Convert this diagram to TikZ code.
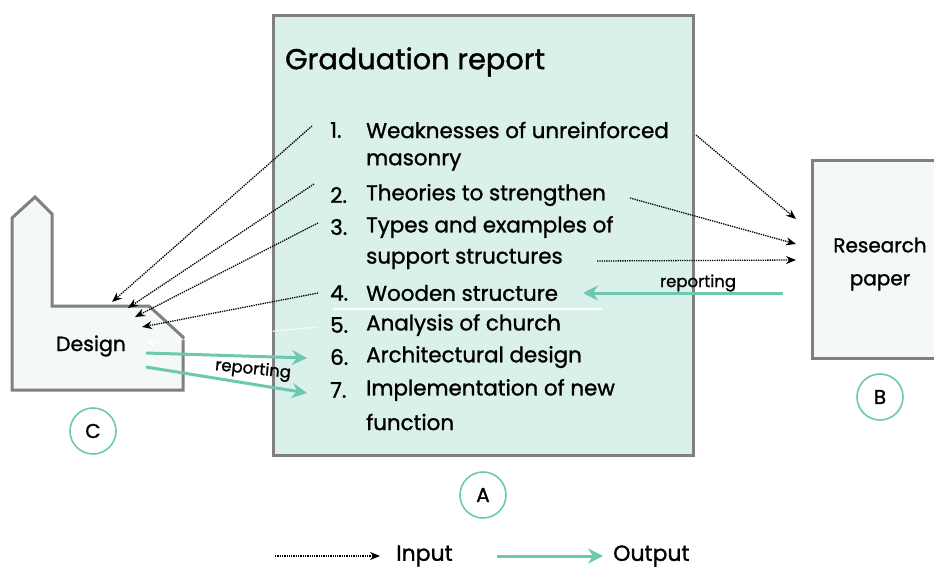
\documentclass[tikz,border=0pt]{standalone}
\usepackage{fontspec}
\setmainfont{Poppins}[FakeBold=1.2]
\usetikzlibrary{arrows.meta}
\definecolor{teal1}{RGB}{108,200,174}
\definecolor{paleteal}{RGB}{218,240,235}
\definecolor{palegray}{RGB}{244,248,247}
\definecolor{edgegray}{RGB}{128,128,128}
\tikzset{
  panel/.style={draw=edgegray, line width=3pt, fill=palegray},
  itemtxt/.style={anchor=west, inner sep=0pt, font=\fontsize{21.4}{24}\selectfont},
  inarrow/.style={densely dotted, line width=1.3pt, -{Stealth[length=10pt,width=8pt]}},
  outarrow/.style={draw=teal1, line width=3pt, -{Stealth[length=15pt,width=15pt,inset=5pt]}},
  tag/.style={circle, draw=teal1, line width=1.6pt, minimum size=46pt, inner sep=0pt, font=\fontsize{20}{24}\selectfont},
}
\begin{document}
\begin{tikzpicture}[x=1pt,y=-1pt]
\useasboundingbox (0,0) rectangle (934,567);

% report panel
\node[panel, fill=paleteal, minimum width=420pt, minimum height=439pt, inner sep=0pt] (A) at (483,235.5) {};
\node[anchor=west, inner sep=0pt, font=\fontsize{28.8}{32}\selectfont] (title) at (285,62) {Graduation report};

% numbered list
\foreach \n/\y in {1/130,2/195,3/227,4/293,5/325,6/357,7/390}
  \node[itemtxt] (num\n) at (330,\y) {\n.};
\node[itemtxt] (i1) at (366,130) {Weaknesses of unreinforced};
\node[itemtxt] (i1b) at (366,162) {masonry};
\node[itemtxt] (i2) at (366,195) {Theories to strengthen};
\node[itemtxt] (i3) at (366,227) {Types and examples of};
\node[itemtxt] (i3b) at (366,259) {support structures};
\node[itemtxt] (i4) at (366,293) {Wooden structure};
\node[itemtxt] (i5) at (366,325) {Analysis of church};
\node[itemtxt] (i6) at (366,357) {Architectural design};
\node[itemtxt] (i7) at (366,390) {Implementation of new};
\node[itemtxt] (i7b) at (366,422) {function};
\draw[white, line width=1.2pt] (333,309) -- (602,309);

% research paper panel
\node[panel, minimum width=128pt, minimum height=198pt, inner sep=0pt] (B) at (876,259) {};
\node[font=\fontsize{20}{33}\selectfont, align=center] (Btxt) at (880,264) {Research\\paper};

% design panel (church outline)
\draw[panel] (12,218) -- (35,197) -- (52,214) -- (52,306) -- (149,306) -- (183,337) -- (183,390) -- (12,390) -- cycle;
\node[font=\fontsize{20.5}{24}\selectfont] (C) at (91,346) {Design};

% tags
\node[tag] (tagA) at (483,495) {A};
\node[tag] (tagB) at (880,397) {B};
\node[tag] (tagC) at (93,431) {C};

% input connectors towards the design
\coordinate (s1) at (312,126);
\coordinate (s2) at (314,184);
\coordinate (s3) at (318,223);
\coordinate (s4) at (318,293);
\coordinate (s5) at (318,327);
\coordinate (e1) at (112,302);
\coordinate (e2) at (128,308);
\coordinate (e3) at (135,317);
\coordinate (e4) at (142,327);
\coordinate (e5) at (145,343);
\draw[inarrow] (s1) -- (e1);
\draw[inarrow] (s2) -- (e2);
\draw[inarrow] (s3) -- (e3);
\draw[inarrow] (s4) -- (e4);
\draw[inarrow, draw=white, fill=white] (s5) -- (e5);

% input connectors towards the research paper
\coordinate (r1) at (696,135);
\coordinate (r2) at (630,198);
\coordinate (r3) at (597,261);
\coordinate (q1) at (796,219);
\coordinate (q2) at (796,244);
\coordinate (q3) at (796,260);
\draw[inarrow] (r1) -- (q1);
\draw[inarrow] (r2) -- (q2);
\draw[inarrow] (r3) -- (q3);

% output connectors
\coordinate (bout) at (783,293);
\coordinate (bin) at (583,293);
\draw[outarrow] (bout) -- (bin);
\node[font=\fontsize{16.5}{18}\selectfont] (rep1) at (698,283) {reporting};

\coordinate (c1) at (146,353);
\coordinate (c2) at (146,367);
\coordinate (d1) at (307,358);
\coordinate (d2) at (307,393);
\draw[outarrow] (c1) -- (d1);
\draw[outarrow] (c2) -- (d2);
\node[font=\fontsize{16.5}{18}\selectfont, rotate=-6] (rep2) at (253,370) {reporting};

% legend
\coordinate (l1) at (275,556);
\coordinate (l2) at (380,556);
\coordinate (l3) at (497,556);
\coordinate (l4) at (603,556);
\draw[inarrow] (l1) -- (l2);
\node[anchor=west, inner sep=0pt, font=\fontsize{22}{24}\selectfont] (inlab) at (396,556) {Input};
\draw[outarrow] (l3) -- (l4);
\node[anchor=west, inner sep=0pt, font=\fontsize{22}{24}\selectfont] (outlab) at (613,556) {Output};
\end{tikzpicture}
\end{document}
